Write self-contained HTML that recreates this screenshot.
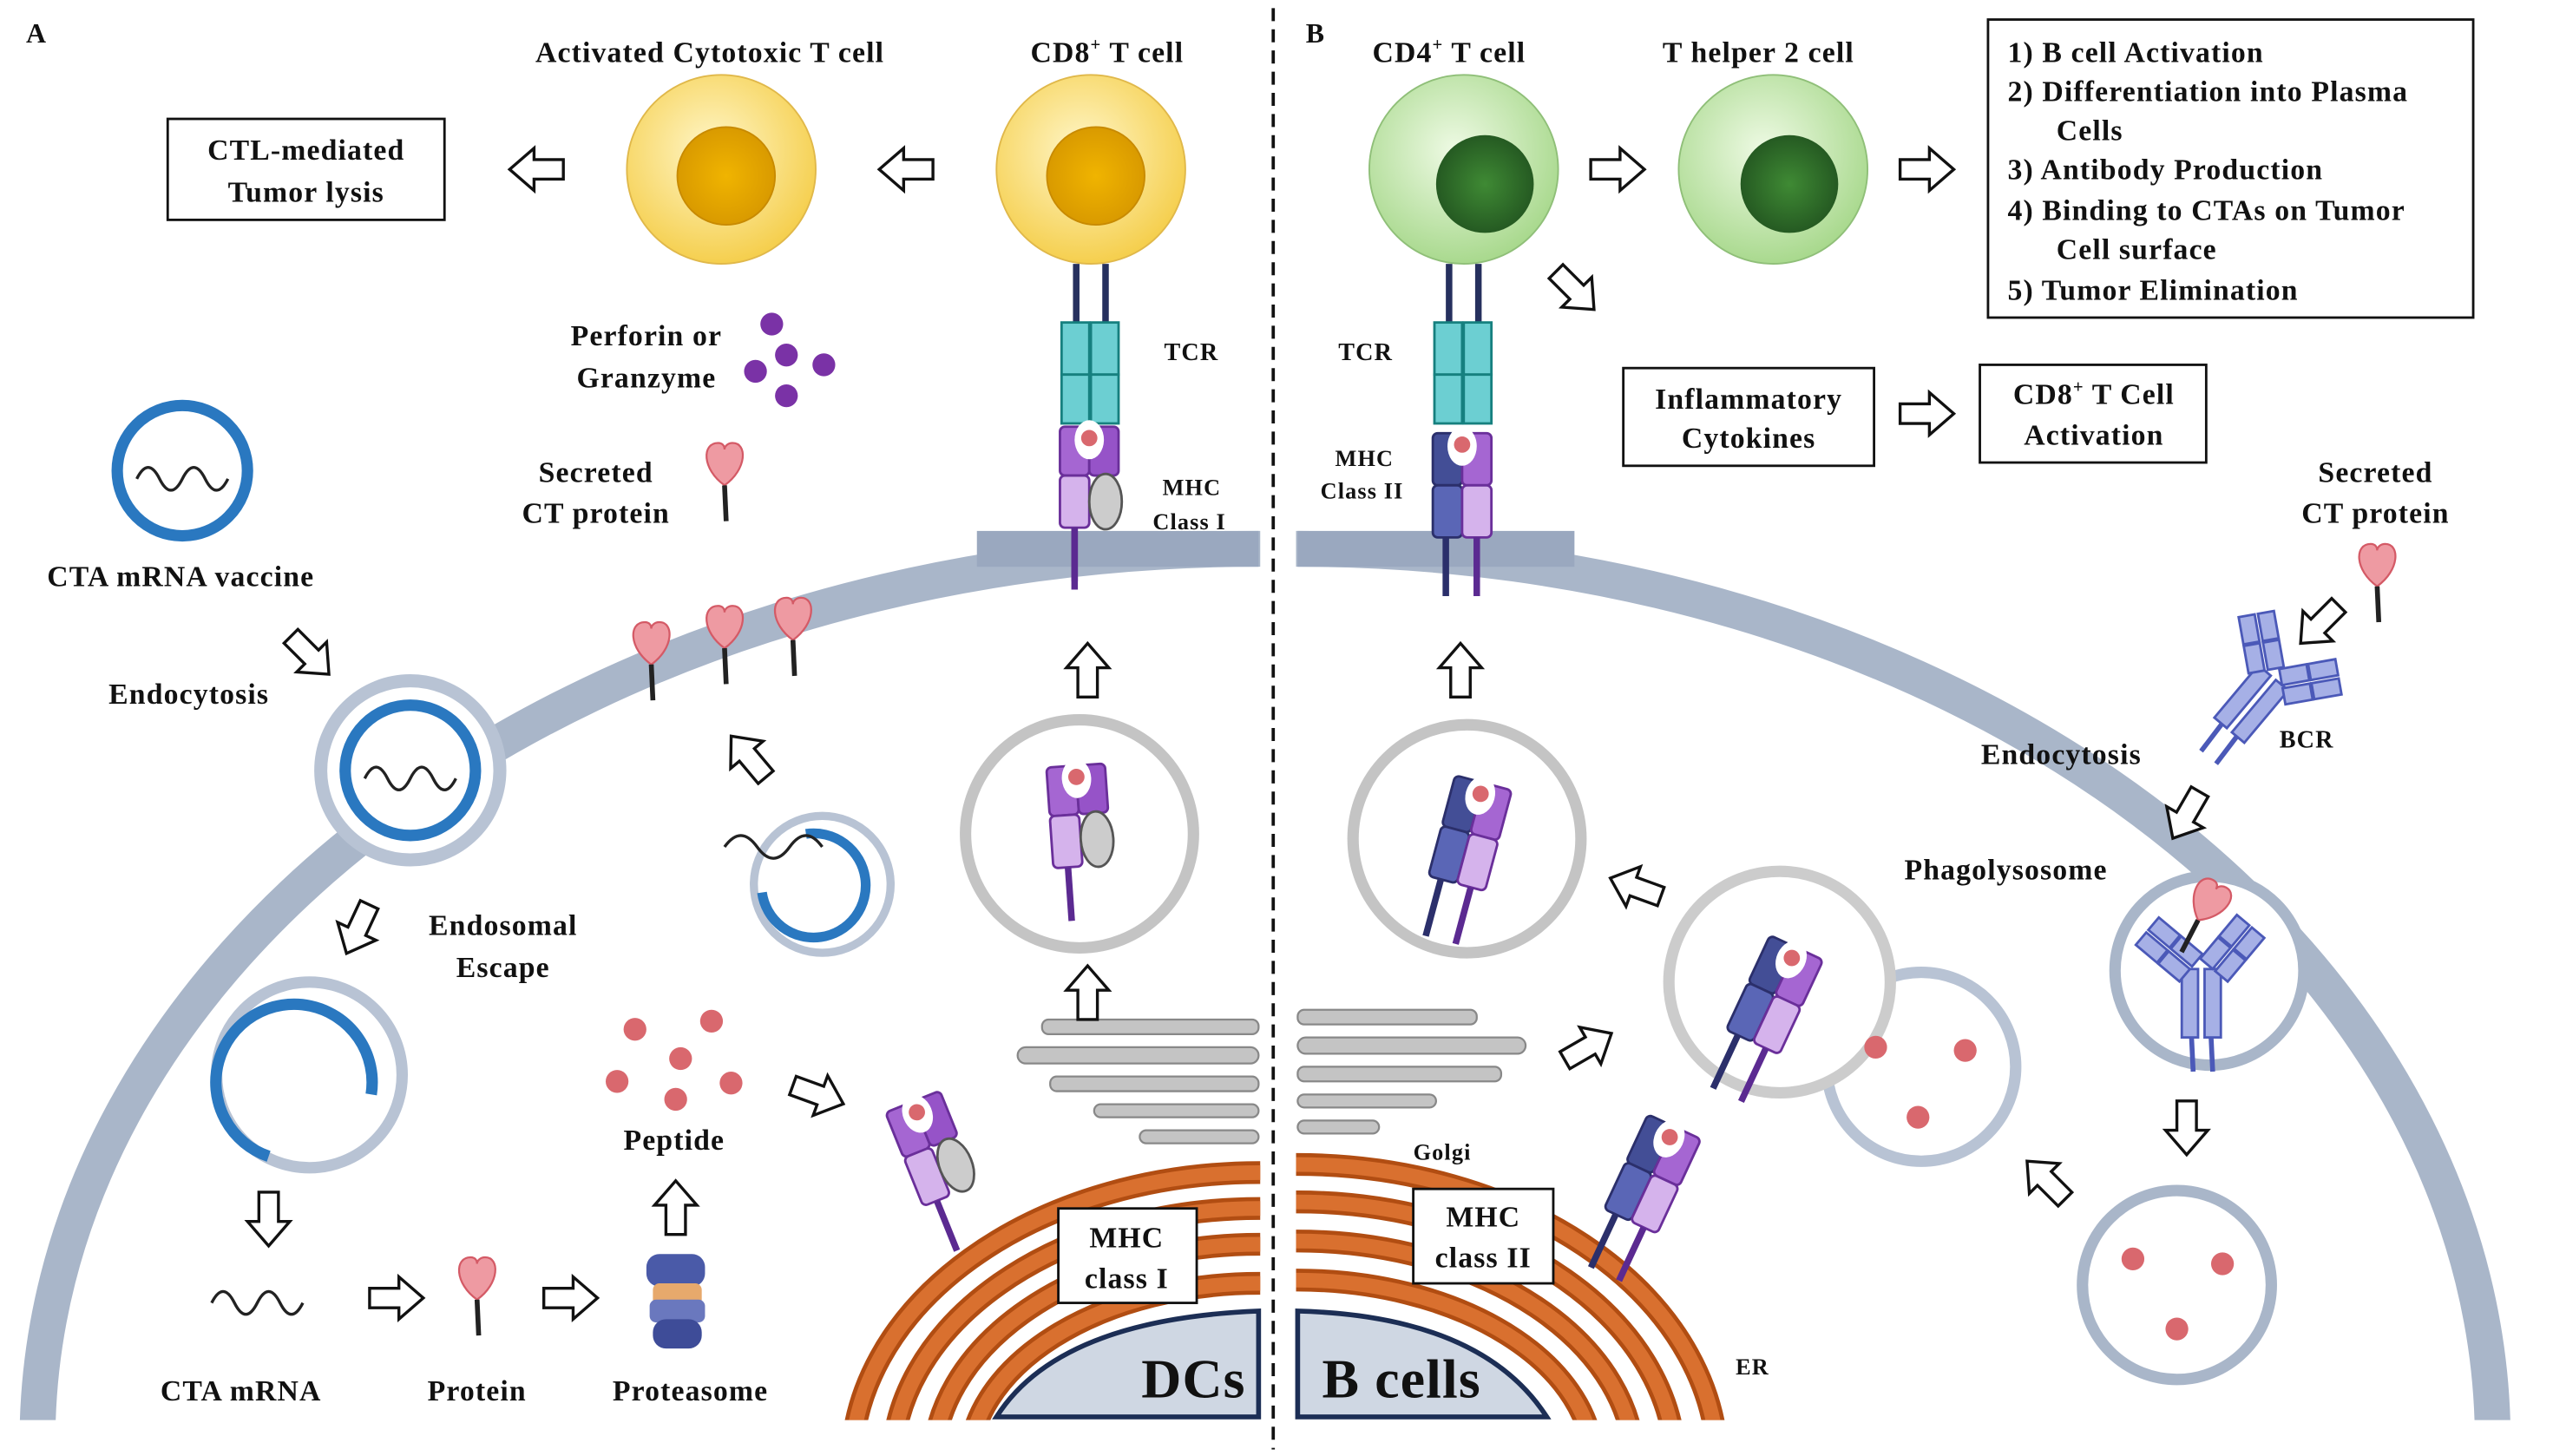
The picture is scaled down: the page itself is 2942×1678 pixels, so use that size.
<!DOCTYPE html>
<html><head><meta charset="utf-8"><style>html,body{margin:0;padding:0;background:#fff;overflow:hidden;width:2942px;height:1678px}svg{display:block}text{font-family:"Liberation Serif",serif;font-weight:bold;fill:#111;letter-spacing:0.6px}</style></head><body>
<svg width="2942" height="1678" viewBox="0 0 1568 894" preserveAspectRatio="none" xmlns="http://www.w3.org/2000/svg">
<defs>
<clipPath id="cl"><rect x="0" y="0" width="774" height="872"/></clipPath>
<clipPath id="cr"><rect x="796" y="0" width="800" height="872"/></clipPath>
<g id="ar"><path d="M-16 -6 H2 V-13 L17 0 L2 13 V6 H-16 Z" fill="#fff" stroke="#111" stroke-width="1.8"/></g>
<radialGradient id="gy" cx="0.45" cy="0.4" r="0.6"><stop offset="0" stop-color="#fff6c8"/><stop offset="1" stop-color="#f5cf4e"/></radialGradient>
<radialGradient id="gyn"><stop offset="0" stop-color="#f0b400"/><stop offset="1" stop-color="#d99a00"/></radialGradient>
<radialGradient id="gg" cx="0.45" cy="0.4" r="0.6"><stop offset="0" stop-color="#eefae4"/><stop offset="1" stop-color="#a9d98e"/></radialGradient>
<radialGradient id="ggn"><stop offset="0" stop-color="#3f8a34"/><stop offset="1" stop-color="#255a22"/></radialGradient>
<g id="prot"><path d="M0 0 C-14 -10 -14 -26 -4 -26 C-1 -26 0 -24 0 -22 C0 -24 2 -26 5 -26 C14 -26 14 -10 0 0 Z" fill="#ee9aa2" stroke="#d45a66" stroke-width="1.2"/><line x1="0" y1="0" x2="1" y2="22" stroke="#222" stroke-width="3"/></g>
<g id="mhc1"><rect x="-18" y="-20" width="18" height="30" rx="3" fill="#a566d2" stroke="#6a2f9a" stroke-width="1.5"/><rect x="0" y="-20" width="18" height="30" rx="3" fill="#9653c8" stroke="#6a2f9a" stroke-width="1.5"/><ellipse cx="0" cy="-12" rx="9" ry="12" fill="#fff"/><circle cx="0" cy="-13" r="5" fill="#d9686e"/><rect x="-18" y="10" width="18" height="32" rx="3" fill="#d5b3ec" stroke="#6a2f9a" stroke-width="1.5"/><ellipse cx="10" cy="26" rx="10" ry="17" fill="#ccc" stroke="#555" stroke-width="1.5"/><line x1="-9" y1="42" x2="-9" y2="75" stroke="#5b2a91" stroke-width="4"/></g>
<g id="mhc2"><rect x="-18" y="-20" width="18" height="32" rx="3" fill="#434e96" stroke="#2b2f6b" stroke-width="1.5"/><rect x="0" y="-20" width="18" height="32" rx="3" fill="#a566d2" stroke="#6a2f9a" stroke-width="1.5"/><ellipse cx="0" cy="-12" rx="9" ry="12" fill="#fff"/><circle cx="0" cy="-13" r="5" fill="#d9686e"/><rect x="-18" y="12" width="18" height="32" rx="3" fill="#5a66b6" stroke="#2b2f6b" stroke-width="1.5"/><rect x="0" y="12" width="18" height="32" rx="3" fill="#d5b3ec" stroke="#6a2f9a" stroke-width="1.5"/><line x1="-10" y1="44" x2="-10" y2="80" stroke="#2b2f6b" stroke-width="4"/><line x1="9" y1="44" x2="9" y2="80" stroke="#5b2a91" stroke-width="4"/></g>
<g id="ab"><g fill="#a6b0e6" stroke="#4b59b8" stroke-width="1.5"><rect x="-12" y="-5" width="10" height="42"/><rect x="2" y="-5" width="10" height="42"/><g transform="rotate(-50 -7 -5)"><rect x="-17" y="-40" width="10" height="17"/><rect x="-5" y="-40" width="10" height="17"/><rect x="-17" y="-22" width="10" height="17"/><rect x="-5" y="-22" width="10" height="17"/></g><g transform="rotate(40 7 -5)"><rect x="-3" y="-40" width="10" height="17"/><rect x="9" y="-40" width="10" height="17"/><rect x="-3" y="-22" width="10" height="17"/><rect x="9" y="-22" width="10" height="17"/></g></g><line x1="-6" y1="37" x2="-5" y2="58" stroke="#4b59b8" stroke-width="3"/><line x1="6" y1="37" x2="7" y2="58" stroke="#4b59b8" stroke-width="3"/></g>
</defs>
<rect width="1568" height="894" fill="#fff"/>
<g clip-path="url(#cl)"><ellipse cx="773" cy="885" rx="750" ry="548" fill="none" stroke="#a9b6c9" stroke-width="22"/></g>
<g clip-path="url(#cr)"><ellipse cx="797" cy="885" rx="734" ry="548" fill="none" stroke="#a9b6c9" stroke-width="22"/></g>
<rect x="600" y="326" width="173" height="22" fill="#9aa8bf"/><rect x="797" y="326" width="170" height="22" fill="#9aa8bf"/>
<g clip-path="url(#cl)" fill="none" stroke="#b14d12" stroke-width="14">
<ellipse cx="773" cy="900" rx="250" ry="180"/><ellipse cx="773" cy="900" rx="225" ry="158"/><ellipse cx="773" cy="900" rx="200" ry="136"/><ellipse cx="773" cy="900" rx="178" ry="112"/>
</g>
<g clip-path="url(#cl)" fill="none" stroke="#d9702f" stroke-width="9">
<ellipse cx="773" cy="900" rx="250" ry="180"/><ellipse cx="773" cy="900" rx="225" ry="158"/><ellipse cx="773" cy="900" rx="200" ry="136"/><ellipse cx="773" cy="900" rx="178" ry="112"/>
</g>
<g clip-path="url(#cr)" fill="none" stroke="#b14d12" stroke-width="14">
<ellipse cx="797" cy="900" rx="258" ry="185"/><ellipse cx="797" cy="900" rx="232" ry="162"/><ellipse cx="797" cy="900" rx="207" ry="138"/><ellipse cx="797" cy="900" rx="182" ry="114"/>
</g>
<g clip-path="url(#cr)" fill="none" stroke="#d9702f" stroke-width="9">
<ellipse cx="797" cy="900" rx="258" ry="185"/><ellipse cx="797" cy="900" rx="232" ry="162"/><ellipse cx="797" cy="900" rx="207" ry="138"/><ellipse cx="797" cy="900" rx="182" ry="114"/>
</g>
<path d="M612 870 Q650 810 773 805 V870 Z" fill="#cfd7e3" stroke="#1c2e55" stroke-width="3"/>
<path d="M797 870 V805 Q910 808 950 870 Z" fill="#cfd7e3" stroke="#1c2e55" stroke-width="3"/>
<rect x="0" y="872" width="1568" height="22" fill="#fff"/>
<text x="701" y="858" font-size="34">DCs</text>
<text x="812" y="858" font-size="34">B cells</text>
<g stroke="#888" stroke-width="1.2" fill="#c4c4c4">
<rect x="640" y="626" width="133" height="9" rx="4"/><rect x="625" y="643" width="148" height="10" rx="5"/><rect x="645" y="661" width="128" height="9" rx="4"/><rect x="672" y="678" width="101" height="8" rx="4"/><rect x="700" y="694" width="73" height="8" rx="4"/>
<rect x="797" y="620" width="110" height="9" rx="4"/><rect x="797" y="637" width="140" height="10" rx="5"/><rect x="797" y="655" width="125" height="9" rx="4"/><rect x="797" y="672" width="85" height="8" rx="4"/><rect x="797" y="688" width="50" height="8" rx="4"/>
</g>
<line x1="782" y1="5" x2="782" y2="890" stroke="#111" stroke-width="2" stroke-dasharray="8,5"/>
<text x="16" y="26" font-size="17">A</text><text x="802" y="26" font-size="17">B</text>
<circle cx="443" cy="104" r="58" fill="url(#gy)" stroke="#e0b84a"/><circle cx="446" cy="108" r="30" fill="url(#gyn)" stroke="#c88a00"/>
<circle cx="670" cy="104" r="58" fill="url(#gy)" stroke="#e0b84a"/><circle cx="673" cy="108" r="30" fill="url(#gyn)" stroke="#c88a00"/>
<circle cx="899" cy="104" r="58" fill="url(#gg)" stroke="#8fbf78"/><circle cx="912" cy="113" r="30" fill="url(#ggn)"/>
<circle cx="1089" cy="104" r="58" fill="url(#gg)" stroke="#8fbf78"/><circle cx="1099" cy="113" r="30" fill="url(#ggn)"/>
<text x="436" y="38" font-size="18" text-anchor="middle">Activated Cytotoxic T cell</text>
<text x="680" y="38" font-size="18" text-anchor="middle">CD8<tspan font-size="11" dy="-7">+</tspan><tspan dy="7"> T cell</tspan></text>
<text x="890" y="38" font-size="18" text-anchor="middle">CD4<tspan font-size="11" dy="-7">+</tspan><tspan dy="7"> T cell</tspan></text>
<text x="1080" y="38" font-size="18" text-anchor="middle">T helper 2 cell</text>
<g stroke="#26305e" stroke-width="4"><line x1="661" y1="162" x2="661" y2="200"/><line x1="679" y1="162" x2="679" y2="200"/><line x1="890" y1="162" x2="890" y2="200"/><line x1="908" y1="162" x2="908" y2="200"/></g>
<g fill="#6ccfd2" stroke="#16807f" stroke-width="1.5">
<rect x="652" y="198" width="17" height="32"/><rect x="670" y="198" width="17" height="32"/><rect x="652" y="230" width="17" height="30"/><rect x="670" y="230" width="17" height="30"/>
<rect x="881" y="198" width="17" height="32"/><rect x="899" y="198" width="17" height="32"/><rect x="881" y="230" width="17" height="30"/><rect x="899" y="230" width="17" height="30"/>
</g>
<use href="#mhc1" x="669" y="282"/>
<line x1="660" y1="324" x2="660" y2="362" stroke="#5b2a91" stroke-width="4"/>
<use href="#mhc2" x="898" y="286"/>
<text x="715" y="221" font-size="15">TCR</text><text x="822" y="221" font-size="15">TCR</text>
<text x="714" y="304" font-size="14">MHC</text><text x="708" y="325" font-size="14">Class I</text>
<text x="820" y="286" font-size="14">MHC</text><text x="811" y="306" font-size="14">Class II</text>
<g fill="#fff" stroke="#111" stroke-width="1.5">
<rect x="103" y="73" width="170" height="62"/><rect x="1221" y="12" width="298" height="183"/><rect x="997" y="226" width="154" height="60"/><rect x="1216" y="224" width="139" height="60"/><rect x="650" y="742" width="85" height="58"/><rect x="868" y="730" width="86" height="58"/>
</g>
<text x="188" y="98" font-size="18" text-anchor="middle">CTL-mediated</text><text x="188" y="124" font-size="18" text-anchor="middle">Tumor lysis</text>
<g font-size="18"><text x="1233" y="38">1)  B cell Activation</text><text x="1233" y="62">2)  Differentiation into Plasma</text><text x="1263" y="86">Cells</text><text x="1233" y="110">3)  Antibody Production</text><text x="1233" y="135">4)  Binding to CTAs on Tumor</text><text x="1263" y="159">Cell surface</text><text x="1233" y="184">5)  Tumor Elimination</text></g>
<text x="1074" y="251" font-size="18" text-anchor="middle">Inflammatory</text><text x="1074" y="275" font-size="18" text-anchor="middle">Cytokines</text>
<text x="1286" y="248" font-size="18" text-anchor="middle">CD8<tspan font-size="11" dy="-7">+</tspan><tspan dy="7"> T Cell</tspan></text><text x="1286" y="273" font-size="18" text-anchor="middle">Activation</text>
<text x="692" y="766" font-size="18" text-anchor="middle">MHC</text><text x="692" y="791" font-size="18" text-anchor="middle">class I</text>
<text x="911" y="753" font-size="18" text-anchor="middle">MHC</text><text x="911" y="778" font-size="18" text-anchor="middle">class II</text>
<use href="#ar" transform="translate(330,104) rotate(180)"/><use href="#ar" transform="translate(557,104) rotate(180)"/>
<use href="#ar" transform="translate(993,104)"/><use href="#ar" transform="translate(1183,104)"/>
<use href="#ar" transform="translate(967,178) rotate(45)"/><use href="#ar" transform="translate(1183,254)"/>
<use href="#ar" transform="translate(190,402) rotate(45)"/><use href="#ar" transform="translate(220,570) rotate(115)"/>
<use href="#ar" transform="translate(165,748) rotate(90)"/><use href="#ar" transform="translate(243,797)"/><use href="#ar" transform="translate(350,797)"/>
<use href="#ar" transform="translate(415,742) rotate(270)"/><use href="#ar" transform="translate(460,465) rotate(230)"/><use href="#ar" transform="translate(502,672) rotate(20)"/>
<use href="#ar" transform="translate(668,412) rotate(270)"/><use href="#ar" transform="translate(668,610) rotate(270)"/><use href="#ar" transform="translate(897,412) rotate(270)"/>
<use href="#ar" transform="translate(1005,545) rotate(200)"/><use href="#ar" transform="translate(975,643) rotate(330)"/><use href="#ar" transform="translate(1257,725) rotate(225)"/>
<use href="#ar" transform="translate(1343,692) rotate(90)"/><use href="#ar" transform="translate(1343,500) rotate(120)"/><use href="#ar" transform="translate(1425,383) rotate(135)"/>
<circle cx="112" cy="289" r="40" fill="#fff" stroke="#2a78c0" stroke-width="7"/>
<path d="M84 294 q7 -14 14 0 t14 0 t14 0 t14 0" fill="none" stroke="#222" stroke-width="1.8"/>
<text x="111" y="360" font-size="18" text-anchor="middle">CTA mRNA vaccine</text>
<text x="116" y="432" font-size="18" text-anchor="middle">Endocytosis</text>
<circle cx="252" cy="473" r="55" fill="#fff" stroke="#b8c3d4" stroke-width="8"/>
<circle cx="252" cy="473" r="40" fill="none" stroke="#2a78c0" stroke-width="7"/>
<path d="M224 478 q7 -14 14 0 t14 0 t14 0 t14 0" fill="none" stroke="#222" stroke-width="1.8"/>
<text x="309" y="574" font-size="18" text-anchor="middle">Endosomal</text><text x="309" y="600" font-size="18" text-anchor="middle">Escape</text>
<circle cx="190" cy="660" r="57" fill="#fff" stroke="#b8c3d4" stroke-width="7"/>
<path d="M165 710 A48 48 0 1 1 228 672" fill="none" stroke="#2a78c0" stroke-width="7"/>
<circle cx="505" cy="543" r="42" fill="#fff" stroke="#b8c3d4" stroke-width="5"/>
<path d="M495 512 A32 32 0 1 1 468 548" fill="none" stroke="#2a78c0" stroke-width="6"/>
<path d="M445 520 q10 -14 20 0 t20 0 t20 0" fill="none" stroke="#222" stroke-width="1.8"/>
<path d="M130 800 q7 -14 14 0 t14 0 t14 0 t14 0" fill="none" stroke="#222" stroke-width="1.8"/>
<text x="148" y="860" font-size="18" text-anchor="middle">CTA mRNA</text>
<use href="#prot" x="293" y="798"/><text x="293" y="860" font-size="18" text-anchor="middle">Protein</text>
<g><rect x="397" y="770" width="36" height="20" rx="8" fill="#4a5aa8"/><rect x="401" y="788" width="30" height="14" rx="4" fill="#e7a96c"/><rect x="399" y="798" width="34" height="14" rx="4" fill="#6a78be"/><rect x="401" y="810" width="30" height="18" rx="8" fill="#3e4c98"/></g>
<text x="424" y="860" font-size="18" text-anchor="middle">Proteasome</text>
<g fill="#d9686e"><circle cx="390" cy="632" r="7"/><circle cx="437" cy="627" r="7"/><circle cx="418" cy="650" r="7"/><circle cx="379" cy="664" r="7"/><circle cx="449" cy="665" r="7"/><circle cx="415" cy="675" r="7"/></g>
<text x="414" y="706" font-size="18" text-anchor="middle">Peptide</text>
<use href="#prot" x="400" y="408"/><use href="#prot" x="445" y="398"/><use href="#prot" x="487" y="393"/>
<use href="#prot" x="445" y="298"/>
<text x="366" y="296" font-size="18" text-anchor="middle">Secreted</text><text x="366" y="321" font-size="18" text-anchor="middle">CT protein</text>
<g fill="#7a32a6"><circle cx="474" cy="199" r="7"/><circle cx="483" cy="218" r="7"/><circle cx="464" cy="228" r="7"/><circle cx="506" cy="224" r="7"/><circle cx="483" cy="243" r="7"/></g>
<text x="397" y="212" font-size="18" text-anchor="middle">Perforin  or</text><text x="397" y="238" font-size="18" text-anchor="middle">Granzyme</text>
<circle cx="663" cy="512" r="70" fill="#fff" stroke="#c4c4c4" stroke-width="7"/>
<use href="#mhc1" transform="translate(662,490) rotate(-4)"/>
<use href="#mhc1" transform="translate(568,695) rotate(-22)"/>
<circle cx="901" cy="515" r="70" fill="#fff" stroke="#c4c4c4" stroke-width="7"/>
<use href="#mhc2" transform="translate(906,500) rotate(15)"/>
<circle cx="1180" cy="655" r="58" fill="#fff" stroke="#b8c3d4" stroke-width="7"/>
<circle cx="1093" cy="603" r="68" fill="#fff" stroke="#ccc" stroke-width="7"/>
<use href="#mhc2" transform="translate(1095,600) rotate(25)"/>
<g fill="#d9686e"><circle cx="1152" cy="643" r="7"/><circle cx="1207" cy="645" r="7"/><circle cx="1178" cy="686" r="7"/></g>
<use href="#mhc2" transform="translate(1020,710) rotate(25)"/>
<text x="868" y="712" font-size="14">Golgi</text><text x="1066" y="844" font-size="14">ER</text>
<text x="1459" y="296" font-size="18" text-anchor="middle">Secreted</text><text x="1459" y="321" font-size="18" text-anchor="middle">CT protein</text>
<use href="#prot" x="1460" y="360"/>
<use href="#ab" transform="translate(1393,420) rotate(40)"/>
<text x="1400" y="459" font-size="15">BCR</text>
<text x="1266" y="469" font-size="18" text-anchor="middle">Endocytosis</text>
<text x="1232" y="540" font-size="18" text-anchor="middle">Phagolysosome</text>
<circle cx="1357" cy="596" r="58" fill="#fff" stroke="#a9b6c9" stroke-width="7"/>
<use href="#ab" transform="translate(1352,600)"/>
<use href="#prot" transform="translate(1350,565) rotate(30)"/>
<circle cx="1337" cy="789" r="58" fill="#fff" stroke="#a9b6c9" stroke-width="7"/>
<g fill="#d9686e"><circle cx="1310" cy="773" r="7"/><circle cx="1365" cy="776" r="7"/><circle cx="1337" cy="816" r="7"/></g>
</svg>
</body></html>
